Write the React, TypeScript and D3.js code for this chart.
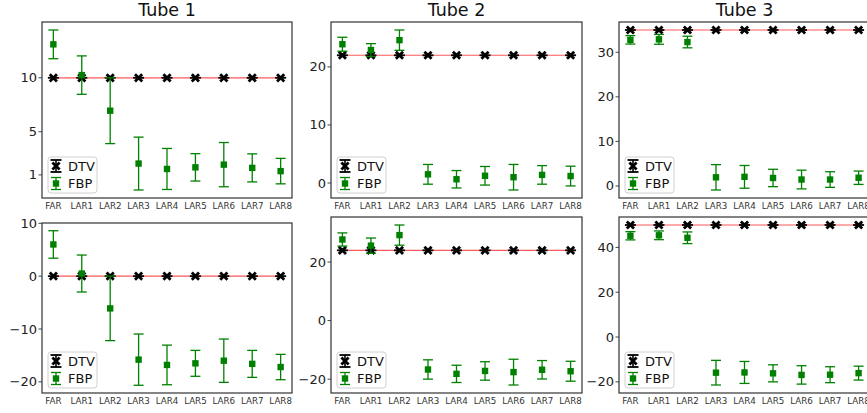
import React, { useEffect, useRef } from 'react'
import * as d3 from 'd3'

const W = 867
const H = 413

const categories = ['FAR', 'LAR1', 'LAR2', 'LAR3', 'LAR4', 'LAR5', 'LAR6', 'LAR7', 'LAR8']
const tubeTitles = ['Tube 1', 'Tube 2', 'Tube 3']

// top row
const dtv1 = [10, 10, 10, 10, 10, 10, 10, 10, 10]
const fbpMean1 = [13.1, 10.25, 6.95, 2.05, 1.55, 1.7, 1.95, 1.65, 1.35]
const fbpErr1 = [1.33, 1.78, 3.05, 2.45, 1.9, 1.27, 2.05, 1.3, 1.18]
const ticks1 = [1, 5, 10]

const dtv2 = [22, 22, 22, 22, 22, 22, 22, 22, 22]
const fbpMean2 = [23.9, 22.9, 24.6, 1.5, 0.65, 1.25, 1.0, 1.4, 1.2]
const fbpErr2 = [1.2, 1.1, 1.75, 1.7, 1.5, 1.6, 2.2, 1.6, 1.7]
const ticks2 = [0, 10, 20]

const dtv3 = [35, 35, 35, 35, 35, 35, 35, 35, 35]
const fbpMean3 = [32.8, 32.9, 32.3, 1.95, 2.05, 1.8, 1.45, 1.45, 1.85]
const fbpErr3 = [0.95, 1.1, 1.3, 2.85, 2.55, 1.95, 2.1, 1.75, 1.5]
const ticks3 = [0, 10, 20, 30]

// bottom row
const dtv4 = [0, 0, 0, 0, 0, 0, 0, 0, 0]
const fbpMean4 = [6.0, 0.5, -6.1, -15.8, -16.8, -16.5, -16.0, -16.6, -17.2]
const fbpErr4 = [2.6, 3.5, 6.1, 4.85, 3.75, 2.45, 4.1, 2.55, 2.4]
const ticks4 = [-20, -10, 0, 10]

const dtv5 = [24, 24, 24, 24, 24, 24, 24, 24, 24]
const fbpMean5 = [27.7, 25.6, 29.2, -16.7, -18.2, -17.2, -17.6, -16.8, -17.3]
const fbpErr5 = [2.25, 2.6, 3.45, 3.3, 2.95, 3.15, 4.4, 3.15, 3.4]
const ticks5 = [-20, 0, 20]

const dtv6 = [50, 50, 50, 50, 50, 50, 50, 50, 50]
const fbpMean6 = [45.2, 45.4, 44.3, -15.9, -15.8, -16.2, -16.9, -16.8, -16.1]
const fbpErr6 = [1.85, 1.95, 2.6, 5.5, 4.9, 3.8, 4.1, 3.55, 3.1]
const ticks6 = [-20, 0, 20, 40]

const panels = [
  { dtv: dtv1, mean: fbpMean1, err: fbpErr1, ticks: ticks1 },
  { dtv: dtv2, mean: fbpMean2, err: fbpErr2, ticks: ticks2 },
  { dtv: dtv3, mean: fbpMean3, err: fbpErr3, ticks: ticks3 },
  { dtv: dtv4, mean: fbpMean4, err: fbpErr4, ticks: ticks4 },
  { dtv: dtv5, mean: fbpMean5, err: fbpErr5, ticks: ticks5 },
  { dtv: dtv6, mean: fbpMean6, err: fbpErr6, ticks: ticks6 },
]

// axes boxes in pixels
const frames = [
  { x0: 42, x1: 292, y0: 22, y1: 198 },
  { x0: 331, x1: 582, y0: 22, y1: 198 },
  { x0: 619, x1: 870, y0: 22, y1: 198 },
  { x0: 42, x1: 292, y0: 223, y1: 393 },
  { x0: 331, x1: 582, y0: 217, y1: 393 },
  { x0: 619, x1: 870, y0: 217, y1: 393 },
]

const FONT = '"DejaVu Sans", sans-serif'
const GREEN = '#008000'

function drawX(g: any, cx: number, cy: number, withBar: boolean) {
  const r = 3.6
  g.append('path')
    .attr('d', `M${cx - r},${cy - r}L${cx + r},${cy + r}M${cx - r},${cy + r}L${cx + r},${cy - r}`)
    .attr('stroke', '#000')
    .attr('stroke-width', 2.8)
  if (withBar) {
    g.append('line')
      .attr('x1', cx - 5.5).attr('x2', cx + 5.5)
      .attr('y1', cy).attr('y2', cy)
      .attr('stroke', '#000').attr('stroke-width', 1.8)
  }
}

function drawErr(g: any, cx: number, yTop: number, yBot: number, cy: number) {
  g.append('line')
    .attr('x1', cx).attr('x2', cx).attr('y1', yTop).attr('y2', yBot)
    .attr('stroke', GREEN).attr('stroke-width', 1.3)
  ;[yTop, yBot].forEach(yy => {
    g.append('line')
      .attr('x1', cx - 5).attr('x2', cx + 5).attr('y1', yy).attr('y2', yy)
      .attr('stroke', GREEN).attr('stroke-width', 1.3)
  })
  g.append('rect')
    .attr('x', cx - 3.2).attr('y', cy - 3.2)
    .attr('width', 6.4).attr('height', 6.4)
    .attr('fill', GREEN)
}

export default function App() {
  const svgRef = useRef<SVGSVGElement>(null)

  useEffect(() => {
    document.body.style.margin = '0'
    const svg = d3.select(svgRef.current)
    svg.selectAll('*').remove()
    svg.append('rect').attr('width', W).attr('height', H).attr('fill', '#fff')

    panels.forEach((p, i) => {
      const f = frames[i]
      const lows = p.mean.map((m, j) => m - p.err[j]).concat(p.dtv)
      const highs = p.mean.map((m, j) => m + p.err[j]).concat(p.dtv)
      const lo = d3.min(lows) as number
      const hi = d3.max(highs) as number
      const pad = (hi - lo) * 0.05

      const x = d3.scalePoint<string>().domain(categories).range([f.x0, f.x1]).padding(0.4)
      const y = d3.scaleLinear().domain([lo - pad, hi + pad]).range([f.y1, f.y0])

      const g = svg.append('g')

      // truth line
      const line = d3.line<number>()
        .x((d, j) => x(categories[j]) as number)
        .y(d => y(d))
      g.append('path')
        .datum(p.dtv)
        .attr('d', line)
        .attr('fill', 'none')
        .attr('stroke', '#ff2020')
        .attr('stroke-opacity', 0.75)
        .attr('stroke-width', 1.2)

      // DTV
      p.dtv.forEach((v, j) => drawX(g, x(categories[j]) as number, y(v), true))

      // FBP
      p.mean.forEach((m, j) => {
        const cx = x(categories[j]) as number
        drawErr(g, cx, y(m + p.err[j]), y(m - p.err[j]), y(m))
      })

      // frame
      g.append('rect')
        .attr('x', f.x0).attr('y', f.y0)
        .attr('width', f.x1 - f.x0).attr('height', f.y1 - f.y0)
        .attr('fill', 'none').attr('stroke', '#333').attr('stroke-width', 1.2)

      // y ticks
      p.ticks.forEach(t => {
        const yy = y(t)
        g.append('line')
          .attr('x1', f.x0 - 3.5).attr('x2', f.x0).attr('y1', yy).attr('y2', yy)
          .attr('stroke', '#333').attr('stroke-width', 0.9)
        g.append('text')
          .attr('x', f.x0 - 5).attr('y', yy)
          .attr('text-anchor', 'end').attr('dominant-baseline', 'central')
          .attr('font-family', FONT).attr('font-size', 13).attr('fill', '#222')
          .text(String(t).replace('-', '\u2212'))
      })

      // x tick labels
      categories.forEach(c => {
        g.append('text')
          .attr('x', x(c) as number).attr('y', f.y1 + 10.5)
          .attr('text-anchor', 'middle')
          .attr('font-family', FONT).attr('font-size', 8.7).attr('fill', '#333')
          .text(c)
      })

      // title on top row
      if (i < 3) {
        g.append('text')
          .attr('x', (f.x0 + f.x1) / 2).attr('y', 16)
          .attr('text-anchor', 'middle')
          .attr('font-family', FONT).attr('font-size', 17.5).attr('fill', '#111')
          .text(tubeTitles[i])
      }

      // legend
      const lx = f.x0 + 6
      const ly = f.y1 - 41
      g.append('rect')
        .attr('x', lx).attr('y', ly).attr('width', 49).attr('height', 36)
        .attr('rx', 3)
        .attr('fill', '#fff').attr('fill-opacity', 0.85)
        .attr('stroke', '#d0d0d0').attr('stroke-width', 1)
      const hx = lx + 8
      const r1 = ly + 9
      const r2 = ly + 26.5
      // DTV handle
      g.append('line')
        .attr('x1', hx).attr('x2', hx).attr('y1', r1 - 6).attr('y2', r1 + 6)
        .attr('stroke', '#000').attr('stroke-width', 1.6)
      ;[r1 - 6, r1 + 6].forEach(yy => {
        g.append('line')
          .attr('x1', hx - 5.5).attr('x2', hx + 5.5).attr('y1', yy).attr('y2', yy)
          .attr('stroke', '#000').attr('stroke-width', 1.8)
      })
      drawX(g, hx, r1, false)
      // FBP handle
      drawErr(g, hx, r2 - 6, r2 + 6, r2)
      ;[['DTV', r1], ['FBP', r2]].forEach(([label, yy]) => {
        g.append('text')
          .attr('x', lx + 20).attr('y', yy as number)
          .attr('dominant-baseline', 'central')
          .attr('font-family', FONT).attr('font-size', 13).attr('fill', '#111')
          .text(label as string)
      })
    })
  }, [])

  return <svg ref={svgRef} width={W} height={H} style={{ display: 'block' }} />
}
